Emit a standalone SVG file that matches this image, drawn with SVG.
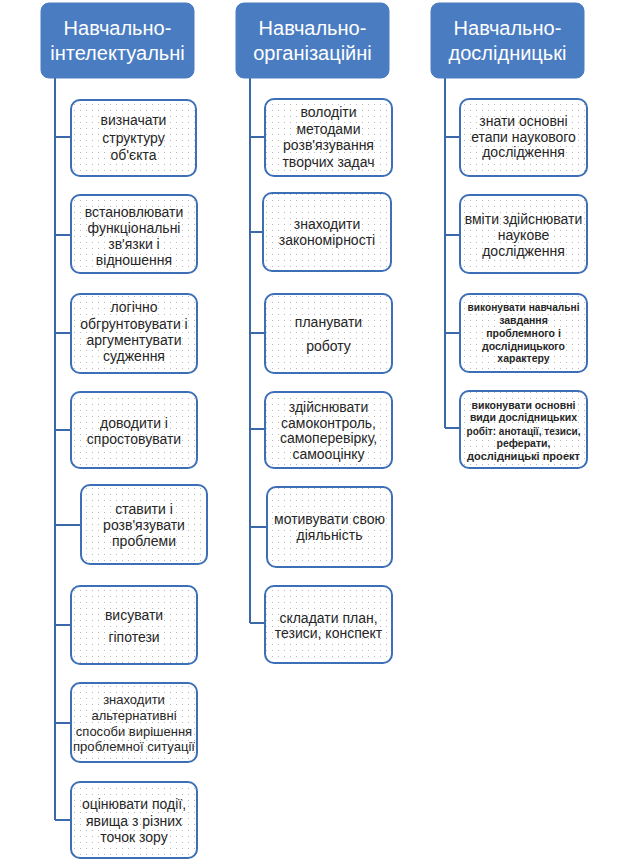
<svg xmlns="http://www.w3.org/2000/svg" width="625" height="860" viewBox="0 0 625 860">
<defs>
<pattern id="dots" x="0" y="0" width="6" height="6" patternUnits="userSpaceOnUse">
<rect width="6" height="6" fill="#ffffff"/>
<rect x="2" y="2" width="1" height="1" fill="#b8b8b8"/>
</pattern>
</defs>
<style>
.hdr{fill:#4A7CC2;stroke:#4A7CC2;stroke-width:1}
.ht{font-family:"Liberation Sans",Arial,sans-serif;font-size:20px;fill:#ffffff;text-anchor:middle}
.box{fill:url(#dots);stroke:#3D6FB6;stroke-width:2}
.bt{font-family:"Liberation Sans",Arial,sans-serif;font-size:14px;fill:#262626;text-anchor:middle}
.bs{font-family:"Liberation Sans",Arial,sans-serif;font-size:10.5px;font-weight:bold;fill:#262626;text-anchor:middle}
.ln{stroke:#3A68A8;stroke-width:2;fill:none}
</style>
<g id="connectors">
<path class="ln" d="M55 78 V820"/>
<path class="ln" d="M55 137 H71 M55 235 H71 M55 333 H71 M55 430 H71 M55 525 H81 M55 625 H71 M55 723 H71 M55 820 H71"/>
<path class="ln" d="M250 78 V623"/>
<path class="ln" d="M250 137 H265 M250 232 H263 M250 333 H265 M250 429 H265 M250 527 H267 M250 623 H265"/>
<path class="ln" d="M445 78 V428"/>
<path class="ln" d="M445 137 H460 M445 235 H460 M445 333 H460 M445 428 H460"/>
</g>
<g id="h1"><rect class="hdr" x="41" y="3" width="153" height="75" rx="8"/><text class="ht" x="117.5" y="35">Навчально-</text><text class="ht" x="117.5" y="60">інтелектуальні</text></g>
<g id="h2"><rect class="hdr" x="236" y="3" width="153" height="75" rx="8"/><text class="ht" x="312.5" y="35">Навчально-</text><text class="ht" x="312.5" y="60">організаційні</text></g>
<g id="h3"><rect class="hdr" x="431" y="3" width="153" height="75" rx="8"/><text class="ht" x="507.5" y="35">Навчально-</text><text class="ht" x="507.5" y="60">дослідницькі</text></g>

<g id="a1"><rect class="box" x="71" y="100" width="125" height="76" rx="9"/><text class="bt" x="133.5" y="125">визначати</text><text class="bt" x="133.5" y="143">структуру</text><text class="bt" x="133.5" y="160">об'єкта</text></g>
<g id="a2"><rect class="box" x="71" y="195" width="126" height="78" rx="9"/><text class="bt" x="134" y="217">встановлювати</text><text class="bt" x="134" y="233">функціональні</text><text class="bt" x="134" y="249">зв'язки і</text><text class="bt" x="134" y="265">відношення</text></g>
<g id="a3"><rect class="box" x="71" y="294" width="126" height="79" rx="9"/><text class="bt" x="134" y="312">логічно</text><text class="bt" x="134" y="329">обгрунтовувати і</text><text class="bt" x="134" y="345">аргументувати</text><text class="bt" x="134" y="361">судження</text></g>
<g id="a4"><rect class="box" x="71" y="392" width="126" height="76" rx="9"/><text class="bt" x="134" y="428">доводити і</text><text class="bt" x="134" y="444">спростовувати</text></g>
<g id="a5"><rect class="box" x="81" y="485" width="126" height="79" rx="9"/><text class="bt" x="144" y="514">ставити і</text><text class="bt" x="144" y="530">розв'язувати</text><text class="bt" x="144" y="546">проблеми</text></g>
<g id="a6"><rect class="box" x="71" y="586" width="126" height="78" rx="9"/><text class="bt" x="134" y="620">висувати</text><text class="bt" x="134" y="642">гіпотези</text></g>
<g id="a7"><rect class="box" x="71" y="683" width="126" height="79" rx="9"/><text class="bt" x="134" y="704" style="font-size:13px">знаходити</text><text class="bt" x="134" y="720" style="font-size:13px">альтернативні</text><text class="bt" x="134" y="736" style="font-size:13px">способи вирішення</text><text class="bt" x="134" y="751" style="font-size:13px" textLength="122" lengthAdjust="spacingAndGlyphs">проблемної ситуації</text></g>
<g id="a8"><rect class="box" x="71" y="782" width="126" height="76" rx="9"/><text class="bt" x="134" y="809">оцінювати події,</text><text class="bt" x="134" y="826">явища з різних</text><text class="bt" x="134" y="842">точок зору</text></g>

<g id="b1"><rect class="box" x="265" y="99" width="127" height="77" rx="9"/><text class="bt" x="328.5" y="117">володіти</text><text class="bt" x="328.5" y="134">методами</text><text class="bt" x="328.5" y="150">розв'язування</text><text class="bt" x="328.5" y="167">творчих задач</text></g>
<g id="b2"><rect class="box" x="263" y="193" width="128" height="78" rx="9"/><text class="bt" x="327" y="229">знаходити</text><text class="bt" x="327" y="245">закономірності</text></g>
<g id="b3"><rect class="box" x="265" y="294" width="127" height="79" rx="9"/><text class="bt" x="328.5" y="327">планувати</text><text class="bt" x="328.5" y="351">роботу</text></g>
<g id="b4"><rect class="box" x="265" y="392" width="127" height="76" rx="9"/><text class="bt" x="328.5" y="412">здійснювати</text><text class="bt" x="328.5" y="428">самоконтроль,</text><text class="bt" x="328.5" y="443">самоперевірку,</text><text class="bt" x="328.5" y="459">самооцінку</text></g>
<g id="b5"><rect class="box" x="267" y="487" width="125" height="80" rx="9"/><text class="bt" x="329.5" y="524">мотивувати свою</text><text class="bt" x="329.5" y="540">діяльність</text></g>
<g id="b6"><rect class="box" x="265" y="586" width="127" height="77" rx="9"/><text class="bt" x="328.5" y="623">складати план,</text><text class="bt" x="328.5" y="638">тезиси, конспект</text></g>

<g id="c1"><rect class="box" x="460" y="99" width="127" height="77" rx="9"/><text class="bt" x="523.5" y="126">знати основні</text><text class="bt" x="523.5" y="142">етапи наукового</text><text class="bt" x="523.5" y="157">дослідження</text></g>
<g id="c2"><rect class="box" x="460" y="195" width="127" height="78" rx="9"/><text class="bt" x="523.5" y="224">вміти здійснювати</text><text class="bt" x="523.5" y="240">наукове</text><text class="bt" x="523.5" y="256">дослідження</text></g>
<g id="c3"><rect class="box" x="460" y="294" width="127" height="78" rx="9"/><text class="bs" x="523.5" y="311" textLength="112" lengthAdjust="spacingAndGlyphs">виконувати навчальні</text><text class="bs" x="523.5" y="324">завдання</text><text class="bs" x="523.5" y="337">проблемного і</text><text class="bs" x="523.5" y="350">дослідницького</text><text class="bs" x="523.5" y="362">характеру</text></g>
<g id="c4"><rect class="box" x="460" y="391" width="127" height="77" rx="9"/><text class="bs" x="523.5" y="409">виконувати основні</text><text class="bs" x="523.5" y="421">види дослідницьких</text><text class="bs" x="523.5" y="435" textLength="114" lengthAdjust="spacingAndGlyphs">робіт: анотації, тезиси,</text><text class="bs" x="523.5" y="447">реферати,</text><text class="bs" x="523.5" y="460" textLength="113" lengthAdjust="spacingAndGlyphs">дослідницькі проект</text></g>
</svg>
